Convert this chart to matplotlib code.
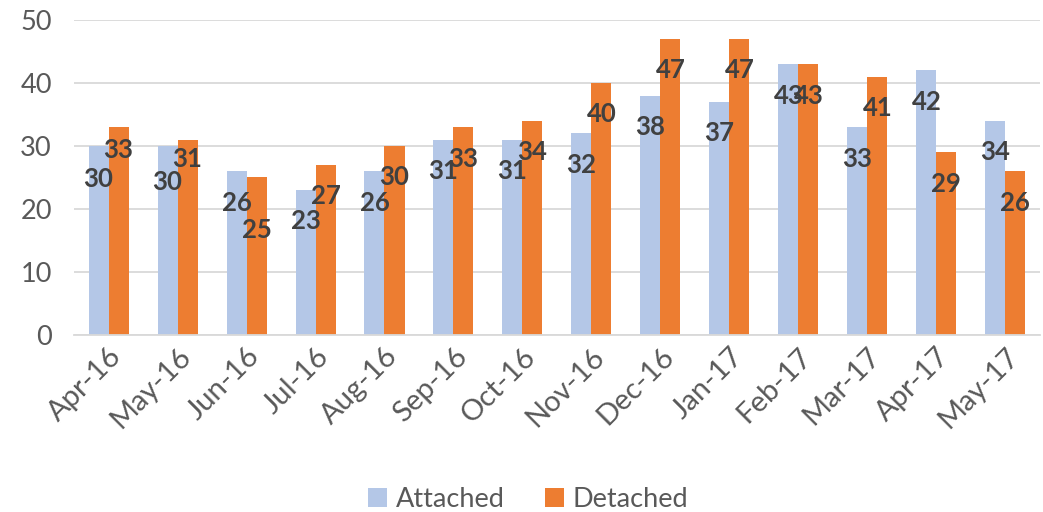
import matplotlib.pyplot as plt
import numpy as np

plt.rcParams['font.family'] = ['Lato', 'DejaVu Sans']

months = ["Apr-16", "May-16", "Jun-16", "Jul-16", "Aug-16", "Sep-16", "Oct-16",
          "Nov-16", "Dec-16", "Jan-17", "Feb-17", "Mar-17", "Apr-17", "May-17"]
attached = [30, 30, 26, 23, 26, 31, 31, 32, 38, 37, 43, 33, 42, 34]
detached = [33, 31, 25, 27, 30, 33, 34, 40, 47, 47, 43, 41, 29, 26]

# how far below the bar top each data label sits (in data units)
attached_drop = [5.2, 5.7, 5, 5, 5, 5, 5, 5, 5, 5, 5, 5, 5, 5]
detached_drop = [3.6, 3.1, 8.3, 5, 5, 5, 5, 5, 5, 5, 5, 5, 5, 5]

c_att = "#B4C7E7"
c_det = "#ED7D31"
txt = "#595959"

fig = plt.figure(figsize=(10.43, 5.12), dpi=100)
ax = fig.add_axes([0.071, 0.346, 0.926, 0.615])

x = np.arange(len(months))
w = 0.29
ax.bar(x - w / 2, attached, w, color=c_att, label="Attached", zorder=2)
ax.bar(x + w / 2, detached, w, color=c_det, label="Detached", zorder=2)

for i in range(len(months)):
    ax.text(x[i] - w / 2, attached[i] - attached_drop[i], str(attached[i]),
            ha="center", va="center", fontsize=18.5, fontweight="bold", color="#404040", zorder=3)
    ax.text(x[i] + w / 2, detached[i] - detached_drop[i], str(detached[i]),
            ha="center", va="center", fontsize=18.5, fontweight="bold", color="#404040", zorder=3)

ax.set_xlim(-0.5, len(months) - 0.5)
ax.set_ylim(0, 50)
ax.set_yticks(range(0, 51, 10))
ax.yaxis.grid(True, color="#D9D9D9", linewidth=1.3, zorder=0)
ax.set_axisbelow(True)
for s in ["top", "right", "left"]:
    ax.spines[s].set_visible(False)
ax.spines["bottom"].set_color("#D9D9D9")
ax.spines["bottom"].set_linewidth(1.3)
ax.tick_params(axis="both", length=0, colors=txt, labelsize=19.5)
ax.tick_params(axis="y", pad=16)
ax.tick_params(axis="x", pad=6, labelsize=21)
ax.set_xticks(x)
ax.set_xticklabels(months, rotation=45, ha="right", rotation_mode="anchor")

ax.legend(loc="lower center", bbox_to_anchor=(0.47, -0.64), ncol=2, frameon=False,
          fontsize=19.5, labelcolor=txt, handlelength=0.7, handleheight=0.7,
          handletextpad=0.3, columnspacing=1.5)

fig.savefig("out.png", dpi=100)
